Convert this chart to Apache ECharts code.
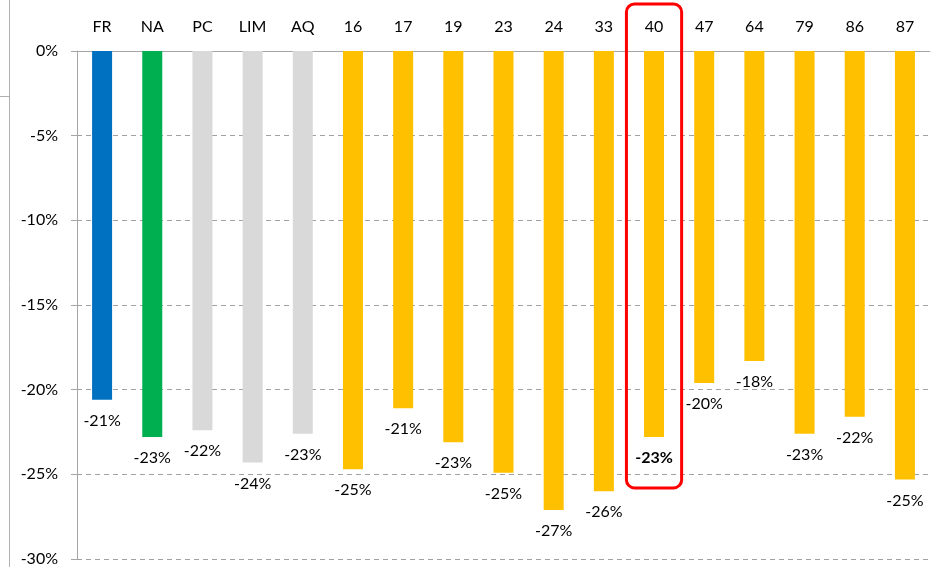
<!DOCTYPE html>
<html><head><meta charset="utf-8">
<script src="https://cdn.jsdelivr.net/npm/echarts@6/dist/echarts.min.js"></script>
<style>html,body{margin:0;padding:0;background:#fff}#c{width:939px;height:567px}</style>
</head><body><div id="c"></div>
<script>
const categories = ['FR','NA','PC','LIM','AQ','16','17','19','23','24','33','40','47','64','79','86','87'];
const values = [-20.6,-22.8,-22.4,-24.3,-22.6,-24.7,-21.1,-23.1,-24.9,-27.1,-26.0,-22.8,-19.6,-18.3,-22.6,-21.6,-25.3];
const levels = ['country','region','other','other','other','dept','dept','dept','dept','dept','dept','dept','dept','dept','dept','dept','dept'];
const highlight = '40';
const yTicks = {min:-30, max:0, interval:5};

const colorMap = {country:'#0070C0', region:'#00B050', other:'#D9D9D9', dept:'#FFC000'};
const FONT = 'Lato';
const chart = echarts.init(document.getElementById('c'));
chart.setOption({
  animation:false,
  grid:{left:77,right:9,top:51,bottom:7.5,containLabel:false},
  xAxis:{type:'category',data:categories,position:'top',
    axisLine:{lineStyle:{color:'#a6a6a6',width:1}},
    axisTick:{inside:true,length:6,lineStyle:{color:'#a6a6a6'}},
    axisLabel:{color:'#000',fontFamily:FONT,fontSize:16,margin:16},
    splitLine:{show:false}},
  yAxis:{type:'value',min:yTicks.min,max:yTicks.max,interval:yTicks.interval,
    axisLine:{show:true,lineStyle:{color:'#a6a6a6'}},
    axisTick:{show:true,length:6,lineStyle:{color:'#a6a6a6'}},
    axisLabel:{color:'#000',fontFamily:FONT,fontSize:16,margin:19,formatter:v=>v+'%'},
    splitLine:{show:true,lineStyle:{color:'#a0a0a0',type:[5,4],width:1}}},
  series:[{type:'bar',barWidth:20,
    data:values.map((v,i)=>({value:v,itemStyle:{color:colorMap[levels[i]]},
      label:{fontWeight:categories[i]===highlight?'bold':'normal'}})),
    label:{show:true,position:'bottom',distance:13,color:'#000',fontFamily:FONT,fontSize:16,
      formatter:p=>Math.round(p.value)+'%'}}]
});
const idx = categories.indexOf(highlight);
const cx = chart.convertToPixel({xAxisIndex:0}, idx);
const band = chart.convertToPixel({xAxisIndex:0}, idx+1) - cx;
const yb = chart.convertToPixel({yAxisIndex:0}, -25.8);
chart.setOption({graphic:[
  {type:'rect',shape:{x:cx-band*0.55,y:4,width:band*1.1,height:yb-4,r:8},
   style:{fill:'none',stroke:'#FF0000',lineWidth:3},z:100},
  {type:'line',shape:{x1:9.5,y1:0,x2:9.5,y2:567},style:{stroke:'#b0b0b0',lineWidth:1}},
  {type:'line',shape:{x1:0,y1:96.5,x2:9.5,y2:96.5},style:{stroke:'#b0b0b0',lineWidth:1}}
]});
</script></body></html>
